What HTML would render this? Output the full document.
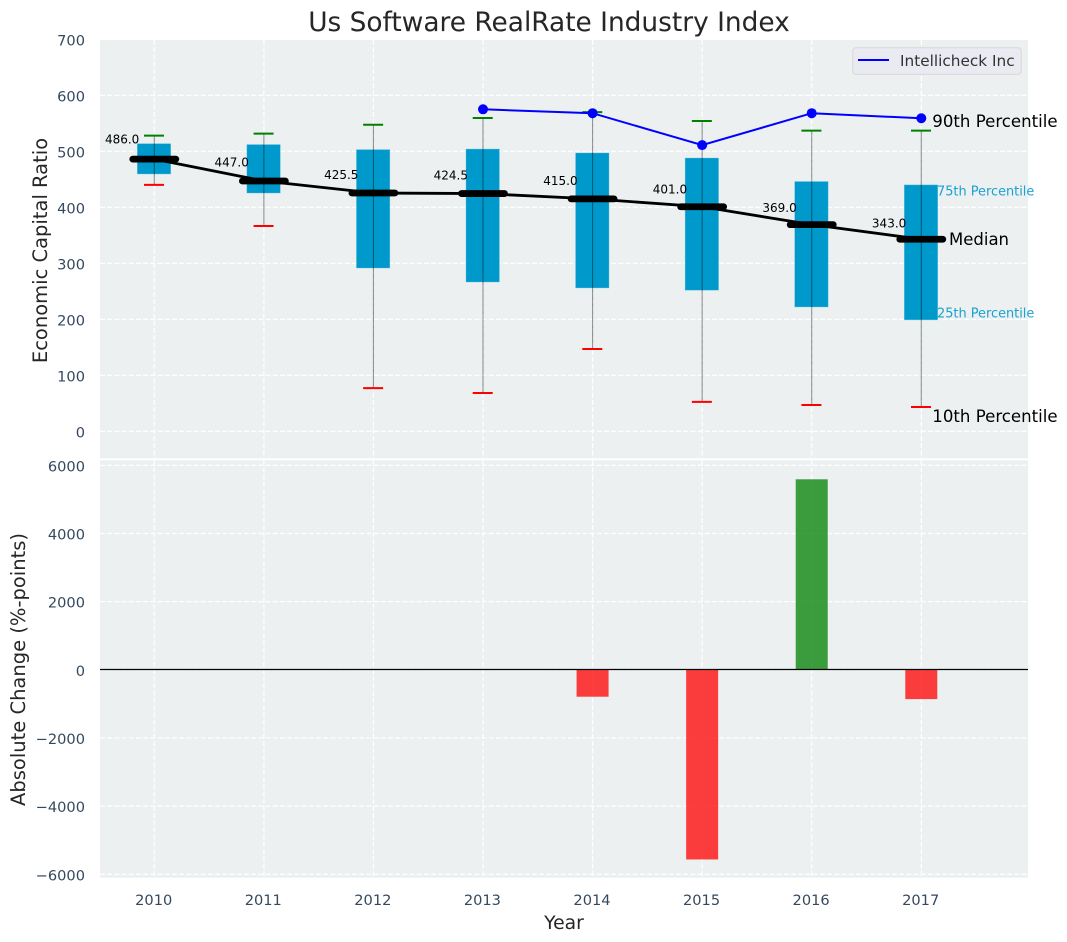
<!DOCTYPE html>
<html lang="en">
<head>
<meta charset="utf-8">
<title>Us Software RealRate Industry Index</title>
<style>
html,body{margin:0;padding:0;background:#fff;width:1067px;height:942px;overflow:hidden}
svg{display:block;font-family:"DejaVu Sans","Liberation Sans",sans-serif}
</style>
</head>
<body>
<svg id="chart" xmlns="http://www.w3.org/2000/svg" width="1067" height="942" viewBox="0 0 1067 942"></svg>
<script>
const years = [2010, 2011, 2012, 2013, 2014, 2015, 2016, 2017];
const p90 = [528, 531.5, 547.5, 559.5, 570, 554, 537, 537];
const p75 = [513.6, 512, 503, 504, 497, 488, 446, 440];
const median = [486, 447, 425.5, 424.5, 415, 401, 369, 343];
const p25 = [459.5, 425.5, 291.6, 266.6, 256, 252, 222, 199];
const p10 = [440, 366.6, 77, 68.5, 147, 52.5, 47, 43.4];
const companyYears = [2013, 2014, 2015, 2016, 2017];
const companyValues = [575, 568, 511, 568, 559];
const changeYears = [2014, 2015, 2016, 2017];
const changeValues = [-790, -5565, 5590, -860];
const topTicks = [0, 100, 200, 300, 400, 500, 600, 700];
const bottomTicks = [-6000, -4000, -2000, 0, 2000, 4000, 6000];
const seriesName = "Intellicheck Inc";

const svg = document.getElementById('chart');
const NS = 'http://www.w3.org/2000/svg';
function mk(tag, attrs, text) {
  const node = document.createElementNS(NS, tag);
  for (const k in attrs) node.setAttribute(k, attrs[k]);
  if (text !== undefined) node.textContent = text;
  svg.appendChild(node);
  return node;
}
const xOf = v => 154.3 + (v - 2010) * 109.57;
const yTop = v => 431.3 - v * 0.56;
const yBot = v => 669.8 - v * 0.03408;
const L = 100, R = 1028, T1 = 40, B1 = 458.3, T2 = 460.3, B2 = 877.7;
const tickColor = '#34495e';
const tickSize = 14.6;
const gridStyle = {stroke: '#ffffff', 'stroke-width': 1.2, 'stroke-dasharray': '5 2.2', fill: 'none'};
let el;

el = mk('rect', {x: L, y: T1, width: R - L, height: B1 - T1, fill: '#ecf0f1'});



el = mk('rect', {x: L, y: T2, width: R - L, height: B2 - T2, fill: '#ecf0f1'});



topTicks.forEach(t => {
  if (yTop(t) > T1) {
    el = mk('line', Object.assign({x1: L, x2: R, y1: yTop(t), y2: yTop(t)}, gridStyle));
    
    
  }
  el = mk('text', {x: 85, y: yTop(t) + 6, 'text-anchor': 'end', 'font-size': tickSize, fill: tickColor}, String(t));
  
  
});

bottomTicks.forEach(t => {
  el = mk('line', Object.assign({x1: L, x2: R, y1: yBot(t), y2: yBot(t)}, gridStyle));
  
  
  el = mk('text', {x: 85, y: yBot(t) + 6, 'text-anchor': 'end', 'font-size': tickSize, fill: tickColor}, String(t).replace('-', '\u2212'));
  
  
});

years.forEach(y => {
  el = mk('line', Object.assign({x1: xOf(y), x2: xOf(y), y1: T1, y2: B1}, gridStyle));
  
  
  el = mk('line', Object.assign({x1: xOf(y), x2: xOf(y), y1: T2, y2: B2}, gridStyle));
  
  
  el = mk('text', {x: xOf(y) - 0.6, y: 904.8, 'text-anchor': 'middle', 'font-size': tickSize, fill: tickColor}, String(y));
  
  
});

years.forEach((y, i) => {
  const cx = xOf(y);
  el = mk('rect', {x: cx - 17, y: yTop(p75[i]), width: 33.4, height: yTop(p25[i]) - yTop(p75[i]), fill: '#0099cc', stroke: '#5cc0e0', 'stroke-width': 0.6, 'stroke-opacity': 0.6});
  
  
  el = mk('line', {x1: cx, x2: cx, y1: yTop(p90[i]), y2: yTop(p10[i]), stroke: '#000', 'stroke-width': 1.1, 'stroke-opacity': 0.42});
  
  
  el = mk('line', {x1: cx - 10.3, x2: cx + 9.7, y1: yTop(p90[i]), y2: yTop(p90[i]), stroke: '#008000', 'stroke-width': 2});
  
  
  el = mk('line', {x1: cx - 10.3, x2: cx + 9.7, y1: yTop(p10[i]), y2: yTop(p10[i]), stroke: '#ff0000', 'stroke-width': 2});
  
  
});

el = mk('polyline', {points: years.map((y, i) => xOf(y) + ',' + yTop(median[i])).join(' '), fill: 'none', stroke: '#000', 'stroke-width': 2.8});



years.forEach((y, i) => {
  const cx = xOf(y);
  el = mk('line', {x1: cx - 21.5, x2: cx + 21.5, y1: yTop(median[i]), y2: yTop(median[i]), stroke: '#000', 'stroke-width': 6.8, 'stroke-linecap': 'round'});
  
  
  el = mk('text', {x: cx - 15, y: yTop(median[i]) - (3 + 0.0259 * median[i]), 'text-anchor': 'end', 'font-size': 12, fill: '#000'}, median[i].toFixed(1));
  
  
});

el = mk('polyline', {points: companyYears.map((y, i) => xOf(y) + ',' + yTop(companyValues[i])).join(' '), fill: 'none', stroke: '#0000ff', 'stroke-width': 2});



companyYears.forEach((y, i) => {
  el = mk('circle', {cx: xOf(y), cy: yTop(companyValues[i]), r: 5, fill: '#0000ff'});
  
  
});

el = mk('text', {x: 932.3, y: 127, 'font-size': 16.6, fill: '#000'}, '90th Percentile');



el = mk('text', {x: 937, y: 195.4, 'font-size': 12.9, fill: '#0099cc', 'fill-opacity': 0.9}, '75th Percentile');



el = mk('text', {x: 949, y: 245, 'font-size': 16.5, fill: '#000'}, 'Median');



el = mk('text', {x: 937, y: 317.4, 'font-size': 12.9, fill: '#0099cc', 'fill-opacity': 0.9}, '25th Percentile');



el = mk('text', {x: 932.3, y: 422, 'font-size': 16.6, fill: '#000'}, '10th Percentile');



changeYears.forEach((y, i) => {
  const v = changeValues[i];
  const top = Math.min(yBot(v), yBot(0));
  el = mk('rect', {x: xOf(y) - 16, y: top, width: 32, height: Math.abs(yBot(v) - yBot(0)), fill: v >= 0 ? '#008000' : '#ff0000', 'fill-opacity': 0.75});
  
  
});

el = mk('line', {x1: L, x2: R, y1: yBot(0) - 0.3, y2: yBot(0) - 0.3, stroke: '#000', 'stroke-width': 1.3});



el = mk('rect', {x: 852.8, y: 47.8, width: 168.4, height: 26.4, rx: 3, ry: 3, fill: '#eaeaf2', stroke: '#d6d6d6', 'stroke-width': 1});



el = mk('line', {x1: 858, x2: 889, y1: 60, y2: 60, stroke: '#0000ff', 'stroke-width': 2});



el = mk('text', {x: 900, y: 66, 'font-size': 15.3, fill: '#333'}, seriesName);



el = mk('text', {x: 549, y: 31, 'text-anchor': 'middle', 'font-size': 26.4, fill: '#262626'}, 'Us Software RealRate Industry Index');



el = mk('text', {x: 564, y: 929, 'text-anchor': 'middle', 'font-size': 18.8, fill: '#262626'}, 'Year');



el = mk('text', {transform: 'translate(47,250.5) rotate(-90)', 'text-anchor': 'middle', 'font-size': 19.5, fill: '#262626'}, 'Economic Capital Ratio');



el = mk('text', {transform: 'translate(25,669.5) rotate(-90)', 'text-anchor': 'middle', 'font-size': 19.5, fill: '#262626'}, 'Absolute Change (%-points)');


</script>
</body>
</html>
